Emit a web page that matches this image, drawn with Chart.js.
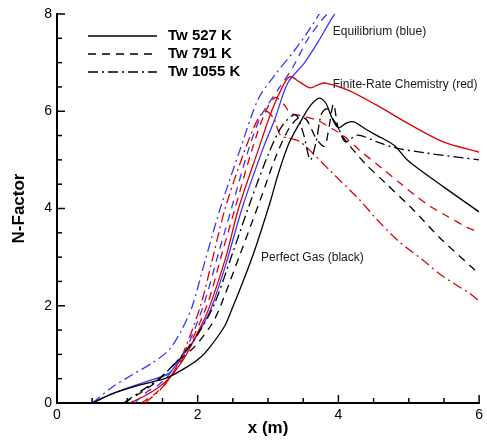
<!DOCTYPE html>
<html>
<head>
<meta charset="utf-8">
<script src="https://cdn.jsdelivr.net/npm/chart.js@4.4.1/dist/chart.umd.min.js"></script>
<style>
  html, body { margin: 0; padding: 0; background: #fff; }
  #wrap { width: 487px; height: 442px; }
</style>
</head>
<body>
<div id="wrap"><canvas id="chart" width="487" height="442"></canvas></div>
<script>
// Perfect gas (black)
const pg527X = [0.5, 0.8, 1.17, 1.55, 1.87, 2.05, 2.2, 2.39, 2.48, 2.58, 2.8, 3.04, 3.14, 3.3, 3.49, 3.61, 3.73, 3.82, 3.91, 4.0, 4.12, 4.22, 4.4, 4.55, 4.79, 5.0, 5.5, 6.0];
const pg527Y = [0, 0.2, 0.37, 0.51, 0.76, 0.95, 1.2, 1.6, 1.91, 2.26, 3.1, 4.18, 4.69, 5.35, 5.86, 6.13, 6.27, 6.17, 5.86, 5.66, 5.76, 5.78, 5.62, 5.5, 5.3, 4.97, 4.44, 3.93];
const pg791X = [0.95, 1.2, 1.45, 1.68, 1.95, 2.2, 2.32, 2.6, 2.89, 3.12, 3.3, 3.45, 3.55, 3.68, 3.8, 3.87, 3.93, 3.99, 4.05, 4.37, 4.65, 5.04, 5.44, 5.89, 6.0];
const pg791Y = [0, 0.22, 0.48, 0.82, 1.15, 1.62, 1.98, 3.05, 4.18, 5.1, 5.65, 5.88, 5.82, 5.45, 5.28, 5.7, 6.15, 5.7, 5.5, 4.94, 4.55, 4.01, 3.4, 2.8, 2.65];
const pg1055X = [0.95, 1.2, 1.45, 1.7, 1.95, 2.22, 2.5, 2.76, 3.0, 3.2, 3.39, 3.5, 3.6, 3.68, 3.76, 3.84, 3.92, 4.0, 4.1, 4.27, 4.55, 4.8, 5.25, 6.0];
const pg1055Y = [0, 0.25, 0.5, 0.85, 1.3, 1.98, 3.1, 4.18, 5.1, 5.7, 5.93, 5.55, 5.0, 5.35, 5.95, 6.05, 5.85, 5.66, 5.37, 5.51, 5.37, 5.25, 5.14, 5.0];

// Finite-rate chemistry (red)
const fr527X = [1.03, 1.25, 1.45, 1.6, 1.8, 2.0, 2.15, 2.4, 2.58, 2.86, 3.05, 3.24, 3.32, 3.45, 3.6, 3.72, 3.82, 4.13, 4.55, 5.0, 5.49, 6.0];
const fr527Y = [0, 0.15, 0.33, 0.52, 0.9, 1.45, 1.91, 3.0, 4.0, 5.2, 6.0, 6.6, 6.71, 6.6, 6.48, 6.55, 6.58, 6.44, 6.12, 5.74, 5.37, 5.16];
const fr791X = [1.2, 1.4, 1.6, 1.8, 2.13, 2.35, 2.53, 2.77, 2.95, 3.1, 3.22, 3.32, 3.5, 3.72, 3.9, 4.06, 4.3, 4.65, 4.87, 5.08, 5.32, 5.56, 5.82, 5.93];
const fr791Y = [0, 0.2, 0.5, 0.95, 2.0, 3.1, 4.0, 5.2, 5.95, 6.28, 6.15, 5.96, 5.9, 5.8, 5.65, 5.51, 5.2, 4.79, 4.53, 4.28, 4.03, 3.83, 3.62, 3.55];
const fr1055X = [1.25, 1.45, 1.6, 1.8, 2.04, 2.2, 2.39, 2.67, 2.86, 2.97, 3.08, 3.18, 3.3, 3.45, 3.66, 3.9, 4.3, 4.55, 4.87, 5.2, 5.49, 5.86, 6.0];
const fr1055Y = [0, 0.25, 0.5, 1.05, 2.0, 2.9, 4.0, 5.2, 5.85, 6.0, 5.85, 5.5, 5.45, 5.38, 5.1, 4.75, 4.18, 3.77, 3.31, 2.94, 2.6, 2.26, 2.1];

// Equilibrium (blue)
const eq527X = [0.5, 0.8, 1.27, 1.59, 1.73, 1.92, 2.11, 2.2, 2.4, 2.63, 2.92, 3.1, 3.28, 3.52, 3.7, 3.92, 4.05];
const eq527Y = [0, 0.2, 0.44, 0.61, 0.88, 1.23, 1.7, 1.98, 2.85, 4.0, 5.2, 5.85, 6.58, 7.0, 7.4, 7.94, 8.2];
const eq791X = [1.1, 1.3, 1.45, 1.6, 1.8, 2.08, 2.3, 2.48, 2.72, 2.9, 3.14, 3.35, 3.56, 3.75, 3.9];
const eq791Y = [0, 0.25, 0.38, 0.6, 1.0, 2.0, 3.1, 4.0, 5.2, 5.9, 6.44, 6.9, 7.47, 7.85, 8.1];
const eq1055X = [0.5, 0.79, 1.07, 1.35, 1.59, 1.77, 1.92, 2.1, 2.32, 2.6, 2.86, 3.1, 3.38, 3.55, 3.75];
const eq1055Y = [0, 0.33, 0.58, 0.82, 1.09, 1.5, 1.98, 2.9, 4.0, 5.2, 6.25, 6.75, 7.26, 7.6, 8.05];

const legendLabels = ['Tw 527 K', 'Tw 791 K', 'Tw 1055 K'];
const notes = [
    { text: 'Equilibrium (blue)', x: 3.92, y: 7.63 },
    { text: 'Finite-Rate Chemistry (red)', x: 3.92, y: 6.55 },
    { text: 'Perfect Gas (black)', x: 2.9, y: 2.98 }
];

const RED = 'rgb(225, 0, 0)';
const BLUE = 'rgb(55, 55, 255)';
const BLACK = '#000';
const DASHES = [[], [8, 6], [10, 4, 2, 4]];
const FONT = '"Liberation Sans", Arial, Helvetica, sans-serif';

function pts(xs, ys) {
    return xs.map((x, i) => ({ x: x, y: ys[i] }));
}

function line(xs, ys, color, style) {
    return {
        data: pts(xs, ys),
        borderColor: color,
        borderDash: DASHES[style],
        borderWidth: 1.3,
        pointRadius: 0,
        fill: false,
        tension: 0.3
    };
}

const datasets = [
    line(pg527X, pg527Y, BLACK, 0),
    line(pg791X, pg791Y, BLACK, 1),
    line(pg1055X, pg1055Y, BLACK, 2),
    line(fr527X, fr527Y, RED, 0),
    line(fr791X, fr791Y, RED, 1),
    line(fr1055X, fr1055Y, RED, 2),
    line(eq527X, eq527Y, BLUE, 0),
    line(eq791X, eq791Y, BLUE, 1),
    line(eq1055X, eq1055Y, BLUE, 2)
];

// inward major/minor ticks, like the original plot
const innerTicks = {
    id: 'innerTicks',
    afterDraw(chart) {
        const {ctx, chartArea, scales} = chart;
        ctx.save();
        ctx.strokeStyle = '#000';
        ctx.lineWidth = 1.5;
        for (let v = 0; v <= 6.001; v += 0.5) {
            const px = scales.x.getPixelForValue(v);
            const len = Math.abs(v % 2) < 0.01 ? 8 : 5;
            ctx.beginPath();
            ctx.moveTo(px, chartArea.bottom);
            ctx.lineTo(px, chartArea.bottom - len);
            ctx.stroke();
        }
        for (let v = 0; v <= 8.001; v += 0.5) {
            const py = scales.y.getPixelForValue(v);
            const len = Math.abs(v % 2) < 0.01 ? 8 : 5;
            ctx.beginPath();
            ctx.moveTo(chartArea.left, py);
            ctx.lineTo(chartArea.left + len, py);
            ctx.stroke();
        }
        ctx.restore();
    }
};

const labels = {
    id: 'labels',
    afterDraw(chart) {
        const {ctx, scales} = chart;
        ctx.save();
        // legend, top left
        ctx.font = 'bold 15px ' + FONT;
        ctx.textBaseline = 'middle';
        ctx.fillStyle = '#000';
        legendLabels.forEach((t, i) => {
            const y = 36 + i * 18;
            ctx.strokeStyle = '#000';
            ctx.lineWidth = 1.3;
            ctx.setLineDash(DASHES[i]);
            ctx.beginPath();
            ctx.moveTo(88, y);
            ctx.lineTo(157, y);
            ctx.stroke();
            ctx.setLineDash([]);
            ctx.fillText(t, 168, y);
        });
        // notes next to the curves
        ctx.font = '12px ' + FONT;
        ctx.fillStyle = '#1a1a1a';
        notes.forEach(n => {
            ctx.fillText(n.text, scales.x.getPixelForValue(n.x), scales.y.getPixelForValue(n.y));
        });
        ctx.restore();
    }
};

new Chart(document.getElementById('chart').getContext('2d'), {
    type: 'line',
    data: { datasets: datasets },
    options: {
        responsive: false,
        animation: false,
        layout: { padding: { top: 14, right: 4, left: 0, bottom: 0 } },
        plugins: {
            legend: { display: false },
            tooltip: { enabled: false }
        },
        scales: {
            x: {
                type: 'linear',
                min: 0,
                max: 6,
                ticks: { stepSize: 2, padding: 4, color: '#000', font: { family: FONT, size: 14 } },
                grid: { display: false, drawTicks: false },
                border: { display: true, color: '#000', width: 2 },
                title: { display: true, text: 'x (m)', color: '#000', font: { family: FONT, size: 17, weight: 'bold' }, padding: { top: 0, bottom: 3 } },
                afterFit: s => { s.height = 39; }
            },
            y: {
                type: 'linear',
                min: 0,
                max: 8,
                ticks: { stepSize: 2, padding: 5, color: '#000', font: { family: FONT, size: 14 } },
                grid: { display: false, drawTicks: false },
                border: { display: true, color: '#000', width: 2 },
                title: { display: true, text: 'N-Factor', color: '#000', font: { family: FONT, size: 17, weight: 'bold' }, padding: { top: 9, bottom: 0 } },
                afterFit: s => { s.width = 57; }
            }
        }
    },
    plugins: [innerTicks, labels]
});
</script>
</body>
</html>
